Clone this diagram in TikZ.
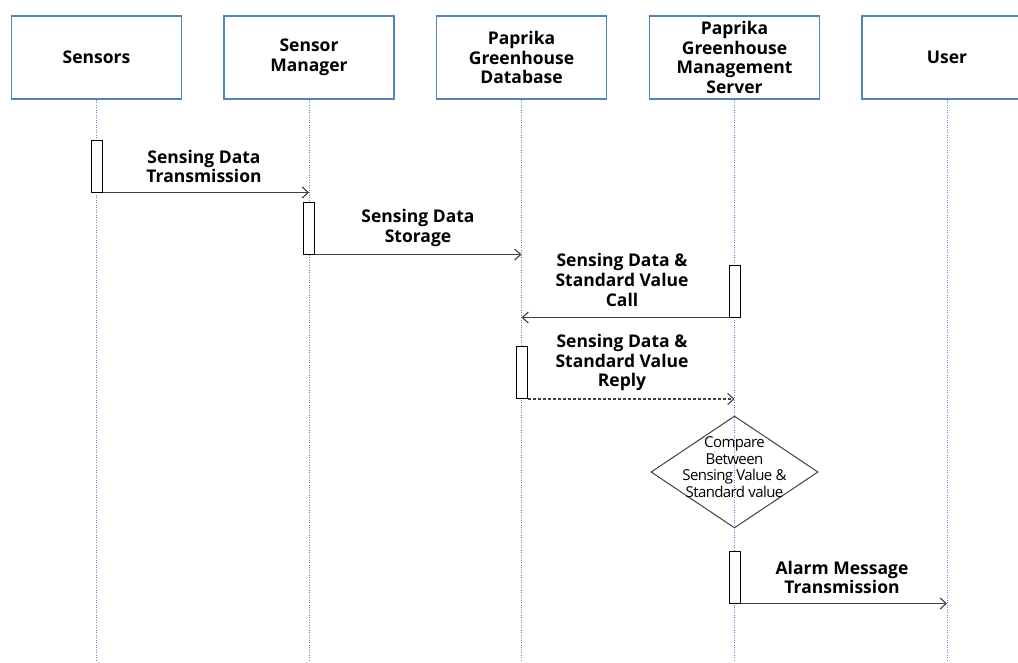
\documentclass[tikz,border=0pt]{standalone}
\usepackage{fontspec}
\setmainfont{Open Sans}
\newfontfamily\condfont{Open Sans}[LetterSpace=-4]
\usetikzlibrary{arrows.meta,shapes.geometric}
\definecolor{boxblue}{RGB}{84,130,190}
\definecolor{lifeblue}{RGB}{90,130,200}
\definecolor{arrowgray}{RGB}{64,64,64}
\tikzset{
  actor/.style={draw=boxblue, line width=1.2pt, minimum width=170pt, minimum height=83pt,
    align=center, font=\bfseries\fontsize{17.5}{19.7}\selectfont, inner sep=0pt},
  lifeline/.style={draw=lifeblue, line width=0.8pt, dash pattern=on 1pt off 1.5pt},
  actbox/.style={draw=black, line width=1pt, fill=white, minimum width=11pt, minimum height=52pt, inner sep=0pt},
  msg/.style={draw=arrowgray, line width=1.2pt, -{Straight Barb[length=6pt,width=11pt,line width=1.1pt]}},
  reply/.style={msg, dash pattern=on 3pt off 2pt},
  msglabel/.style={align=center, font=\bfseries\fontsize{17.5}{19.7}\selectfont, inner sep=0pt},
  cmpbox/.style={diamond, draw=arrowgray, line width=1pt, minimum width=167pt, minimum height=112pt, inner sep=0pt},
  cmptext/.style={align=center, font=\condfont\fontsize{15}{16.5}\selectfont, inner sep=0pt}
}
\begin{document}
\begin{tikzpicture}[x=1pt,y=-1pt]
\useasboundingbox (0,0) rectangle (1018,662);
% actors
\node[actor] (sen) at (96.5,57.5) {Sensors};
\node[actor] (sm)  at (309,57.5) {Sensor\\Manager};
\node[actor] (db)  at (521.5,57.5) {Paprika\\Greenhouse\\Database};
\node[actor] (srv) at (734.5,57.5) {Paprika\\Greenhouse\\Management\\Server};
\node[actor] (usr) at (947,57.5) {User};
% lifelines
\foreach \n in {sen,sm,db,srv,usr}{
  \coordinate (\n end) at (\n.south |- 0,662);
  \draw[lifeline] (\n.south) -- (\n end);
}
% activation boxes
\node[actbox] (a1) at (96.5,166) {};
\node[actbox] (a2) at (309,228) {};
\node[actbox] (a3) at (734.5,291) {};
\node[actbox] (a4) at (521.5,372.5) {};
\node[actbox] (a5) at (734.5,577) {};
% messages
\draw[msg] (a1.south east) -- (a1.south east -| sm);
\draw[msg] (a2.south east) -- (a2.south east -| db);
\draw[msg] (a3.south west) -- (a3.south west -| db);
\draw[reply] (a4.south east) -- (a4.south east -| srv);
\draw[msg] (a5.south east) -- (a5.south east -| usr);
% labels
\node[msglabel] (l1) at (204,166.5) {Sensing Data\\Transmission};
\node[msglabel] (l2) at (418,228) {Sensing Data\\Storage};
\node[msglabel] (l3) at (622,280) {Sensing Data \&\\Standard Value\\Call};
\node[msglabel] (l4) at (622,362.5) {Sensing Data \&\\Standard Value\\Reply};
\node[msglabel] (l5) at (842,577.5) {Alarm Message\\Transmission};
% compare
\node[cmpbox] (cmp) at (734.5,472) {};
\node[cmptext] (cmpt) at (734.5,467) {Compare\\Between\\Sensing Value \&\\Standard value};
\end{tikzpicture}
\end{document}
